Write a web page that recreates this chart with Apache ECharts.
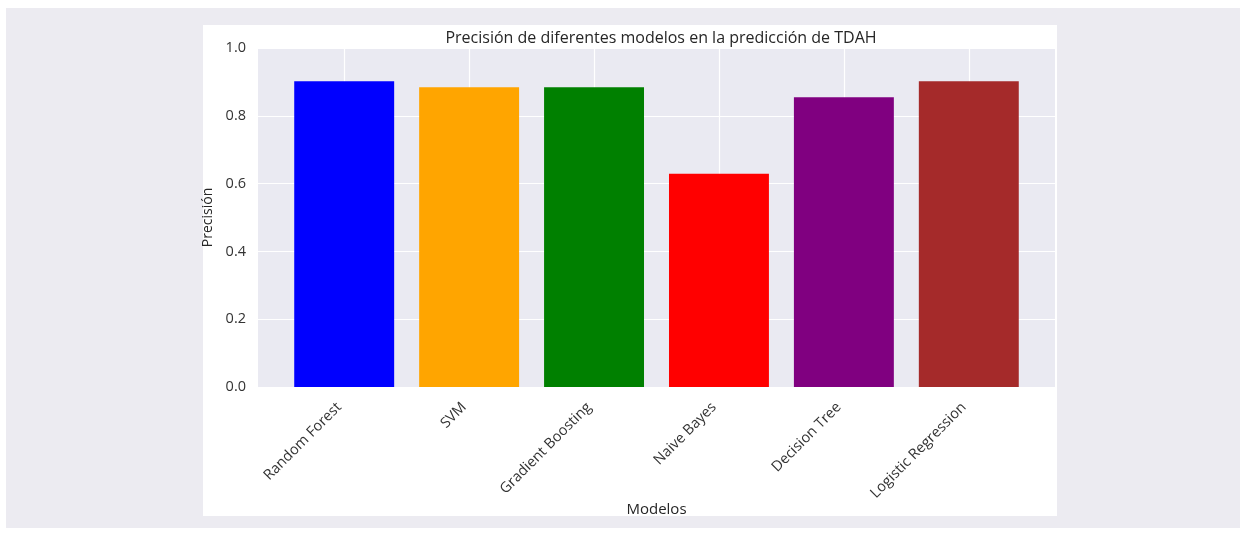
<!DOCTYPE html>
<html>
<head>
<meta charset="utf-8">
<script src="https://cdn.jsdelivr.net/npm/echarts@6/dist/echarts.min.js"></script>
<style>
  html, body { margin: 0; padding: 0; background: #ffffff; }
  #outer { position: absolute; left: 6px; top: 8px; width: 1234px; height: 520px; background: #ecebf1; }
  #panel { position: absolute; left: 203px; top: 25px; width: 854px; height: 491px; background: #ffffff; }
  #chart { position: absolute; left: 0; top: 0; width: 1240px; height: 534px; }
</style>
</head>
<body>
<div id="outer"></div>
<div id="panel"></div>
<div id="chart"></div>
<script>
// modelos y su precisión
const modelos = ['Random Forest', 'SVM', 'Gradient Boosting', 'Naive Bayes', 'Decision Tree', 'Logistic Regression']
const precision = [0.902, 0.884, 0.884, 0.629, 0.855, 0.902]
const colores = ['#0000ff', '#ffa500', '#008000', '#ff0000', '#800080', '#a52a2a']

const chart = echarts.init(document.getElementById('chart'))
const fuente = 'Open Sans, DejaVu Sans, sans-serif'

const option = {
  backgroundColor: 'transparent',
  animation: false,
  title: {
    text: 'Precisión de diferentes modelos en la predicción de TDAH',
    left: 656,
    textAlign: 'center',
    top: 25,
    textStyle: { fontFamily: fuente, fontSize: 16, fontWeight: 'normal', color: '#262626' }
  },
  grid: {
    left: 258, top: 48, width: 797, height: 339,
    show: true, backgroundColor: '#eaeaf2', borderWidth: 0
  },
  xAxis: {
    type: 'value',
    min: -0.69,
    max: 5.69,
    minInterval: 1,
    maxInterval: 1,
    name: 'Modelos',
    nameLocation: 'middle',
    nameGap: 115,
    nameMoveOverlap: false,
    nameTextStyle: { fontFamily: fuente, fontSize: 15, color: '#262626' },
    axisLine: { show: false },
    axisTick: { show: false },
    axisLabel: {
      rotate: 45,
      margin: 13,
      padding: [0, 7, 0, 0],
      showMinLabel: false,
      showMaxLabel: false,
      fontFamily: fuente,
      fontSize: 14.5,
      color: '#333',
      formatter: v => (Number.isInteger(v) && modelos[v]) ? modelos[v] : ''
    },
    splitLine: { show: true, showMinLine: false, showMaxLine: false, lineStyle: { color: '#ffffff', width: 1.2 } }
  },
  yAxis: {
    type: 'value',
    min: 0,
    max: 1,
    interval: 0.2,
    name: 'Precisión',
    nameLocation: 'middle',
    nameGap: 40,
    nameTextStyle: { fontFamily: fuente, fontSize: 14, color: '#262626' },
    axisLine: { show: false },
    axisTick: { show: false },
    axisLabel: {
      margin: 12,
      fontFamily: fuente,
      fontSize: 14.5,
      color: '#333',
      formatter: v => v.toFixed(1)
    },
    splitLine: { show: true, lineStyle: { color: '#ffffff', width: 1.2 } }
  },
  series: [
    {
      type: 'bar',
      barWidth: '80%',
      data: precision.map((p, i) => ({ value: [i, p], itemStyle: { color: colores[i] } }))
    }
  ]
}
chart.setOption(option)
</script>
</body>
</html>
